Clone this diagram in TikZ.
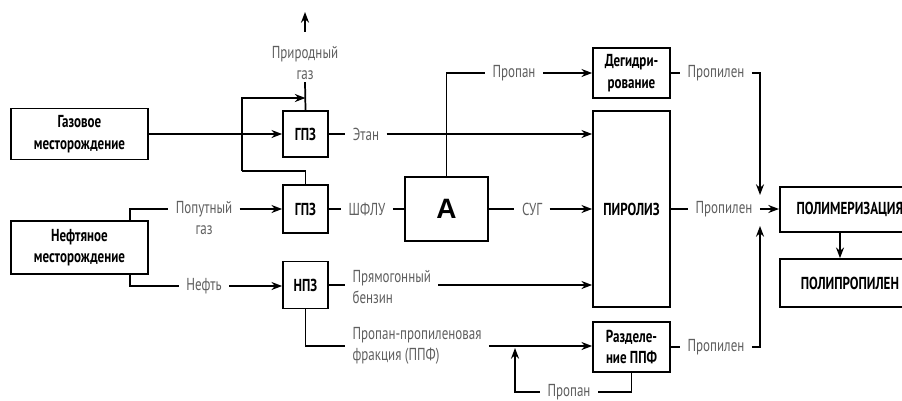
\documentclass[tikz,border=0pt]{standalone}
\usepackage{fontspec}
\setmainfont{PT Sans}[FakeStretch=0.75]
\newfontfamily\arialfont{Liberation Sans}
\usetikzlibrary{arrows.meta, positioning, calc}
\definecolor{LabelGray}{RGB}{95,95,95}
\tikzset{boxsize/.style 2 args={minimum width=#1*0.75pt, minimum height=#2*0.75pt}}

\begin{document}
\begin{tikzpicture}[x=0.75pt, y=-0.75pt, line width=1.3pt,
	box/.style={draw, line width=1.3pt, inner sep=0pt, align=center,
		font=\fontsize{13}{16}\selectfont\bfseries},
	lbl/.style={text=LabelGray, inner xsep=5pt, inner ysep=1pt, align=center,
		font=\fontsize{13}{16}\selectfont},
	arr/.style={-{Stealth[length=8pt, width=6pt]}}]
	\clip (0,0) rectangle (902,400);
	% boxes
	\node[box, boxsize={137}{51}] (gas) at (79.5,134) {Газовое\\месторождение};
	\node[box, boxsize={137}{53}] (oil) at (79.5,247.5) {Нефтяное\\месторождение};
	\node[box, boxsize={45}{46}] (gpzA) at (305.5,134) {ГПЗ};
	\node[box, boxsize={45}{48}] (gpzB) at (305.5,209) {ГПЗ};
	\node[box, boxsize={45}{47}] (npz) at (305.5,285) {НПЗ};
	\node[box, boxsize={83}{64}, font=\arialfont\bfseries\fontsize{21}{24}\selectfont] (unitA) at (446.5,209) {A};
	\node[box, boxsize={77}{50}] (dehyd) at (631.5,73) {Дегидри-\\рование};
	\node[box, boxsize={77}{196}] (pyro) at (631.5,209) {ПИРОЛИЗ};
	\node[box, boxsize={77}{50}] (sep) at (631.5,347) {Разделе-\\ние ППФ};
	\node[box, boxsize={140}{45}, anchor=west] (polym) at (779,209.5) {ПОЛИМЕРИЗАЦИЯ};
	\node[box, boxsize={140}{48}, anchor=west] (polypro) at (779,283) {ПОЛИПРОПИЛЕН};
	% labels
	\node[lbl] (prirgas) at (305,63) {Природный\\газ};
	\node[lbl] (etan) at (366,134) {Этан};
	\node[lbl] (shflu) at (367,209) {ШФЛУ};
	\node[lbl] (sug) at (532,209) {СУГ};
	\node[lbl] (propA) at (514,73) {Пропан};
	\node[lbl] (ppgas) at (204,218) {Попутный\\газ};
	\node[lbl] (neft) at (204,286) {Нефть};
	\node[lbl, anchor=west, align=left] (bnz) at (345,287) {Прямогонный\\бензин};
	\node[lbl, anchor=west, align=left] (ppf) at (345,346) {Пропан-пропиленовая\\фракция (ППФ)};
	\node[lbl] (propB) at (569,392) {Пропан};
	\node[lbl] (pyl1) at (716,73) {Пропилен};
	\node[lbl] (pyl2) at (724,209) {Пропилен};
	\node[lbl] (pyl3) at (716,347) {Пропилен};
	% junction points
	\coordinate (busT) at (242,98);
	\coordinate (busB) at (242,171);
	\coordinate (prirtip) at (305,12);
	\coordinate (oilT) at (130,209);
	\coordinate (oilB) at (130,286);
	\coordinate (recyc) at (515,0);
	\coordinate (mixT) at (760,195);
	\coordinate (mixB) at (760,226);
	\coordinate (downx) at (840,0);
	% gas field
	\draw (gas.east) -- (gas.east -| busT);
	\draw[arr] (gas.east -| busT) -- (gpzA.west);
	\draw[arr] (busB) -- (busT) -- (busT -| gpzA.north);
	\draw (busB) -- (busB -| gpzB.north) -- (gpzB.north);
	\draw (gpzA.north) -- (prirgas.south);
	\draw[arr, shorten <=9pt] (prirgas.north) -- (prirtip);
	% oil field
	\draw (oil.north -| oilT) -- (oilT) -- (ppgas.west |- oilT);
	\draw[arr] (ppgas.east |- oilT) -- (gpzB.west);
	\draw (oil.south -| oilB) -- (oilB) -- (neft.west);
	\draw[arr] (neft.east) -- (npz.west |- neft);
	% plants
	\draw (gpzA.east) -- (etan.west);
	\draw[arr] (etan.east) -- (pyro.west |- etan);
	\draw (gpzB.east) -- (shflu.west);
	\draw (shflu.east) -- (unitA.west);
	\draw (unitA.east) -- (sug.west);
	\draw[arr] (sug.east) -- (pyro.west |- sug);
	\draw (unitA.north) -- (unitA.north |- propA) -- (propA.west);
	\draw[arr] (propA.east) -- (dehyd.west |- propA);
	\draw (npz.east) -- (npz.east -| bnz.west);
	\draw[arr] (bnz.east |- npz.east) -- (pyro.west |- npz.east);
	\draw (npz.south) -- (npz.south |- ppf.west) -- (ppf.west);
	\draw[arr] (ppf.east) -- (sep.west |- ppf);
	\draw (sep.south) -- (sep.south |- propB) -- (propB.east);
	\draw[arr] (propB.west) -- (recyc |- propB) -- ([yshift=-1.5pt]recyc |- ppf);
	% propylene
	\draw (dehyd.east) -- (pyl1.west);
	\draw[arr] (pyl1.east) -- (pyl1.east -| mixT) -- (mixT);
	\draw (pyro.east) -- (pyl2.west);
	\draw[arr] (pyl2.east) -- (polym.west |- pyl2);
	\draw (sep.east) -- (pyl3.west);
	\draw[arr] (pyl3.east) -- (pyl3.east -| mixB) -- (mixB);
	\draw[arr] (polym.south -| downx) -- (polypro.north -| downx);
\end{tikzpicture}
\end{document}
